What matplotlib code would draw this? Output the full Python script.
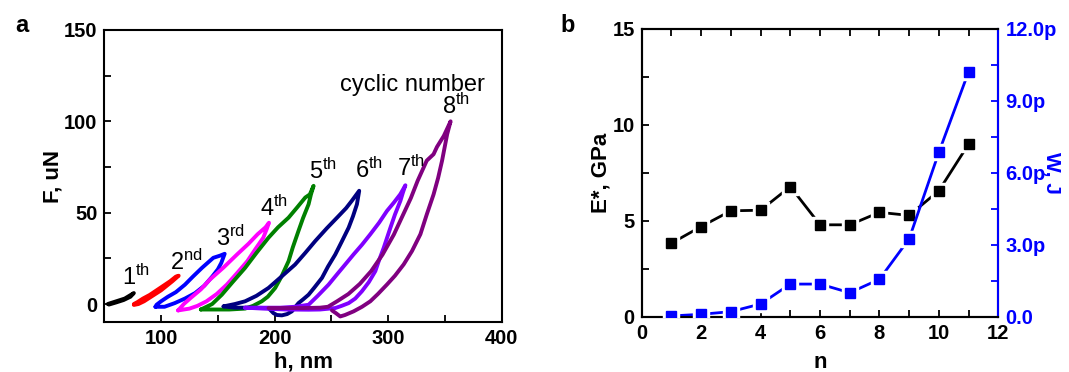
import matplotlib
matplotlib.use("Agg")
import matplotlib.pyplot as plt
from matplotlib.ticker import MultipleLocator

plt.rcParams['font.family'] = ['Liberation Sans', 'DejaVu Sans']
plt.rcParams['mathtext.default'] = 'regular'

# ---------------- Panel a data: load-unload loops (h in nm, F in uN) ----------------
h1 = [53, 58, 63, 68, 72, 76, 73, 67, 60, 54]
F1 = [0, 1, 2, 3, 4.5, 6, 4, 2.2, 0.8, -0.3]

h2 = [76, 80, 85, 90, 95, 100, 105, 110, 115.5, 113, 108, 102, 96, 90, 84, 79, 76]
F2 = [-0.5, 0, 1.5, 3.5, 5.5, 7.5, 10, 12.5, 15.5, 15, 12.5, 10, 7.5, 5, 3, 1, 0]

h3 = [95, 103, 112, 121, 130, 138, 145, 150, 153, 156, 152, 146, 136, 128, 121, 113, 106, 100, 96, 95]
F3 = [-1.5, -1.5, 0.5, 3, 6, 10, 15, 19, 22.5, 27.5, 26.5, 25.3, 19.8, 15, 10.6, 6.5, 4, 1.5, -0.4, -1.5]

h4 = [115, 120, 126, 135, 143, 155, 167, 177, 185, 192, 195, 193, 190, 183, 176, 167, 158, 149, 140, 132, 125, 115]
F4 = [-3.5, 0, 3.3, 8, 13.4, 20, 27.2, 33, 38.2, 42, 44.5, 41, 36.3, 30, 23.5, 17, 10.7, 5.5, 1.5, -1, -2.5, -3.5]

h5 = [135, 145, 153.5, 163, 174, 184, 194.6, 203, 212.3, 220, 227, 231, 234.3, 232, 229.9, 225, 221, 216, 212.3, 206, 200.5, 194, 188.7, 181, 174, 160, 145, 135]
F5 = [-3, 0, 5.1, 12, 19.8, 28, 36.3, 42, 47.3, 53, 58.3, 60, 64.7, 60, 54.6, 47, 40, 31, 23.5, 15, 8.8, 4, 1.5, -1, -2.5, -3, -3, -3]

h6 = [155, 165, 174, 184, 194.6, 206, 218, 227, 235.8, 246, 256.4, 263, 268, 274.5, 272.5, 269, 265.2, 259, 253.4, 247, 241.7, 235, 229.9, 225, 221, 218, 215.2, 211, 206.4, 202, 199, 194.6, 180, 165, 155]
F6 = [-1.3, 0, 1.5, 4.5, 8.8, 15, 21.6, 28, 34.5, 41.5, 48.2, 52.5, 56.5, 62, 54.6, 48, 41.8, 34, 27.1, 20.5, 14.3, 9, 5.1, 2.5, 0.5, -1.8, -4, -5.5, -6.2, -6, -5, -2.2, -2, -2, -1.3]

h7 = [174, 190, 205, 218, 229.9, 238, 247.5, 254.9, 262, 269.6, 277, 284.3, 292, 299, 305, 310.7, 315.2, 313, 310.8, 306, 302, 296.1, 292, 288.7, 283, 276.9, 271, 265.2, 259, 253.4, 240, 229.9, 210, 190, 174]
F7 = [-2, -2, -2, -1.5, -0.4, 4.5, 10.6, 16.2, 21.5, 27.2, 32.5, 38.2, 44.5, 51, 55.5, 60.1, 65, 61, 56.5, 49, 41.8, 30.8, 24, 18, 12, 7, 3, 0.5, -1, -2.2, -3, -3.1, -3, -2.5, -2]

h8 = [194.6, 210, 225, 240, 247, 255, 265, 275, 285, 295, 305, 314, 320, 326, 334, 340, 343, 349, 355, 352, 347.5, 344, 340, 334, 328.4, 321, 313.7, 306, 299, 291, 284.3, 277, 269.6, 262, 257.8, 254, 250.5]
F8 = [-2.2, -2.2, -2.2, -2, -1.5, 1.5, 5.5, 11, 18, 27, 38, 50, 58, 67.5, 78.5, 82, 86, 92, 100, 93, 78.5, 69, 60, 49, 38.2, 29, 21.7, 15.5, 10.7, 5.5, 1.5, -1.5, -4, -6, -6.8, -5, -3.5]

loops = [(h1, F1), (h2, F2), (h3, F3), (h4, F4), (h5, F5), (h6, F6), (h7, F7), (h8, F8)]
loop_colors = ['#000000', '#FF0000', '#0000FF', '#FF00FF', '#008000', '#000080', '#8000FF', '#800080']

cycle_labels = [r'$1^{th}$', r'$2^{nd}$', r'$3^{rd}$', r'$4^{th}$', r'$5^{th}$', r'$6^{th}$', r'$7^{th}$', r'$8^{th}$']
label_h = [66, 108, 148, 187, 230, 271, 308, 347.5]
label_F = [10.3, 18.9, 31.7, 48.2, 68.4, 69.3, 70.2, 103.8]

# ---------------- Panel b data ----------------
n = [1, 2, 3, 4, 5, 6, 7, 8, 9, 10, 11]
E_star = [3.83, 4.7, 5.52, 5.55, 6.78, 4.79, 4.79, 5.44, 5.28, 6.57, 9.0]
W_pJ = [0.03, 0.1, 0.21, 0.53, 1.36, 1.36, 1.0, 1.56, 3.25, 6.86, 10.22]
W_ticks = [0, 3, 6, 9, 12]
W_ticklabels = ['0.0', '3.0p', '6.0p', '9.0p', '12.0p']

fig = plt.figure(figsize=(10.69, 3.72), dpi=100)

TICK_FS = 14.5
LAB_FS = 16

# ---------------- Panel a ----------------
axa = fig.add_axes([0.0976, 0.1336, 0.3717, 0.7858])
for (hh, FF), c in zip(loops, loop_colors):
    axa.plot(hh, FF, color=c, lw=2.8, solid_joinstyle='round', solid_capstyle='round')
axa.set_xlim(50, 400)
axa.set_ylim(-10, 150)
axa.xaxis.set_major_locator(MultipleLocator(100))
axa.xaxis.set_minor_locator(MultipleLocator(50))
axa.yaxis.set_major_locator(MultipleLocator(50))
axa.yaxis.set_minor_locator(MultipleLocator(25))
axa.tick_params(which='both', direction='in', top=False, right=False, width=1.3)
axa.tick_params(which='major', length=5, labelsize=TICK_FS, pad=5)
axa.tick_params(which='minor', length=5)
for lab in axa.get_xticklabels() + axa.get_yticklabels():
    lab.set_fontweight('bold')
for s in axa.spines.values():
    s.set_linewidth(1.5)
axa.set_xlabel('h, nm', fontsize=LAB_FS, fontweight='bold', labelpad=2)
axa.set_ylabel('F, uN', fontsize=LAB_FS, fontweight='bold', labelpad=0)
for t, x, y in zip(cycle_labels, label_h, label_F):
    axa.text(x, y, t, fontsize=17, ha='left', va='baseline')
axa.text(257.8, 116.6, 'cyclic number', fontsize=17, ha='left', va='baseline')
fig.text(0.014, 0.915, 'a', fontsize=17, fontweight='bold')

# ---------------- Panel b ----------------
axb = fig.add_axes([0.6003, 0.1487, 0.3336, 0.7734])
axb.plot(n, E_star, color='black', lw=2, zorder=2)
axb.plot(n, E_star, ls='none', marker='s', ms=11, color='white', zorder=3)
axb.plot(n, E_star, ls='none', marker='s', ms=7, color='black', zorder=4)
axb.set_xlim(0, 12)
axb.set_ylim(0, 15)
axb.xaxis.set_major_locator(MultipleLocator(2))
axb.xaxis.set_minor_locator(MultipleLocator(1))
axb.yaxis.set_major_locator(MultipleLocator(5))
axb.yaxis.set_minor_locator(MultipleLocator(2.5))
axb.tick_params(which='both', direction='in', top=True, right=False, width=1.3, length=5)
axb.tick_params(which='major', labelsize=TICK_FS, pad=5)
for lab in axb.get_xticklabels() + axb.get_yticklabels():
    lab.set_fontweight('bold')
for s in axb.spines.values():
    s.set_linewidth(1.5)
axb.set_xlabel('n', fontsize=LAB_FS, fontweight='bold', labelpad=7)
axb.set_ylabel('E*, GPa', fontsize=LAB_FS, fontweight='bold', labelpad=1)

axw = axb.twinx()
axw.plot(n, W_pJ, color='#0000FF', lw=2, zorder=2)
axw.plot(n, W_pJ, ls='none', marker='s', ms=11, color='white', zorder=3)
axw.plot(n, W_pJ, ls='none', marker='s', ms=7, color='#0000FF', zorder=4)
axw.set_ylim(0, 12)
axw.set_yticks(W_ticks)
axw.set_yticklabels(W_ticklabels)
axw.yaxis.set_minor_locator(MultipleLocator(1.5))
axw.tick_params(axis='y', which='both', direction='in', colors='#0000FF', width=1.3, length=5)
axw.tick_params(axis='y', which='major', labelsize=TICK_FS, pad=5)
for lab in axw.get_yticklabels():
    lab.set_fontweight('bold')
for s in axw.spines.values():
    s.set_linewidth(1.5)
axw.spines['right'].set_color('#0000FF')
axw.set_ylabel('W, J', fontsize=15, fontweight='bold', color='#0000FF', rotation=270, labelpad=1)
axw.yaxis.set_label_coords(1.175, 0.5)
fig.text(0.524, 0.915, 'b', fontsize=17, fontweight='bold')

fig.savefig('out.png', dpi=100)
